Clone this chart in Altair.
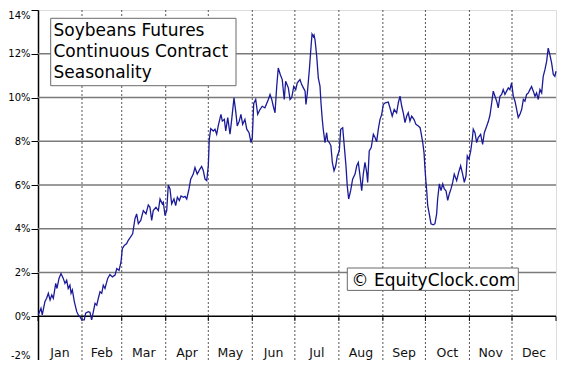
import altair as alt
import pandas as pd

# (day of year, seasonal % change)
q1 = [(0.2,0.06),(2.1,0.36),(3.0,0.06),(4.9,0.68),(6.1,0.82),(7.3,1.05),(8.5,0.74),(9.7,0.97),(10.8,0.82),(12.5,1.5),(13.4,1.27),(14.8,1.73),(16.2,1.95),(17.8,1.73),(19.0,1.5),(20.2,1.65),(21.3,1.27),(22.5,1.42),(23.3,1.05),(24.2,1.2),(25.6,0.67),(27.3,0.21),(28.4,0.06),(29.6,-0.02),(30.8,-0.17),(32.6,-0.17),(33.6,0.14),(35.4,0.21),(36.6,0.18),(37.8,-0.17),(39.0,0.21),(40.2,0.59),(41.4,0.51),(42.5,0.82),(43.7,1.12),(44.9,1.05),(46.0,1.42),(47.2,1.27),(49.1,1.73),(50.7,1.91),(52.4,1.80),(54.3,1.88),(55.5,2.18),(57.1,2.1),(58.5,2.48),(59.4,3.09),(60.8,3.24),(62.5,3.32),(63.6,3.47),(64.8,3.58),(66.7,3.77),(68.3,4.45),(69.5,4.68),(70.7,4.23),(72.4,4.38),(74.2,4.83),(76.1,4.68),(77.7,5.09),(78.9,4.98),(80.1,4.38),(81.2,4.83),(83.1,4.98),(84.8,4.83),(86.0,5.36),(87.6,5.14),(88.3,5.21),(89.5,4.6)]
q2 = [(90.7,4.83),(91.8,6.0),(93.0,5.82),(94.2,5.14),(95.8,5.36),(97.0,5.06),(98.2,5.44),(99.6,5.29),(100.8,5.5),(102.4,5.44),(103.6,5.48),(104.8,5.36),(106.4,5.82),(107.6,6.27),(109.4,6.5),(110.6,6.8),(112.2,6.5),(114.1,6.73),(115.3,6.85),(116.5,6.65),(117.7,6.27),(118.9,6.2),(120.0,6.88),(120.7,8.09),(121.7,8.58),(123.5,8.47),(124.7,8.55),(125.9,8.32),(127.0,8.7),(128.9,9.23),(129.9,8.92),(131.3,9.0),(132.3,8.47),(133.7,9.08),(135.3,8.32),(136.5,9.0),(138.1,9.98),(139.3,9.38),(140.4,8.7),(141.8,8.92),(143.0,9.23),(144.2,8.77),(145.8,9.0),(147.1,8.55),(148.7,8.39),(150.1,7.94),(151.0,8.17),(152.0,9.73),(153.4,9.91),(154.8,9.23),(156.4,9.45),(158.0,9.6),(159.9,9.53),(162.3,9.91),(163.5,10.14),(164.7,9.91),(165.8,9.6),(167.0,9.3),(168.2,10.5),(169.3,11.35),(170.7,11.05),(172.1,10.82),(173.5,9.91),(174.5,10.74),(176.4,10.44),(177.6,9.91),(178.8,10.0),(180.2,10.5)]
q3 = [(181.6,10.36),(182.7,10.67),(184.6,10.82),(185.8,10.59),(187.0,10.44),(188.2,10.29),(188.8,9.68),(189.8,10.21),(191.2,11.27),(192.4,12.33),(193.1,12.9),(194.0,12.79),(194.5,12.86),(195.2,12.64),(196.4,11.88),(197.5,10.9),(198.7,10.52),(199.4,9.76),(200.3,9.0),(201.0,8.55),(202.2,7.94),(203.4,8.39),(204.1,8.02),(205.3,7.94),(206.4,7.79),(207.4,7.03),(208.6,6.65),(209.8,6.88),(210.9,7.33),(212.3,7.56),(213.3,8.55),(214.7,8.62),(215.8,7.79),(217.0,6.88),(217.9,5.97),(218.9,5.36),(220.3,5.74),(221.7,6.27),(223.4,6.5),(224.6,6.88),(225.7,7.03),(226.9,6.42),(228.1,5.74),(229.2,6.5),(230.4,7.03),(231.6,6.58),(232.3,6.12),(233.4,7.56),(234.8,7.71),(236.3,8.32),(237.5,8.17),(238.6,7.97),(239.8,8.55),(241.0,9.0),(242.2,9.23),(243.3,9.68),(244.7,9.76),(246.8,9.79),(248.0,9.53),(249.6,9.15),(251.0,9.45),(252.7,9.3),(253.9,9.76),(255.1,10.06),(256.3,9.6),(257.4,9.3),(258.6,8.85),(259.8,9.15),(260.9,9.3),(262.1,8.92),(263.3,9.15),(264.9,9.0),(266.3,8.77),(268.0,8.7),(269.2,8.62),(269.9,8.39),(271.1,7.94),(272.0,7.48),(272.7,6.73)]
q4 = [(273.4,6.12),(273.9,5.74),(274.6,5.06),(275.7,4.68),(276.9,4.23),(278.5,4.18),(279.7,4.23),(280.9,4.68),(281.6,5.36),(282.8,6.05),(284.0,5.74),(285.2,6.05),(286.3,5.82),(287.5,5.74),(288.7,5.3),(289.8,5.59),(291.0,5.82),(292.2,6.12),(293.3,6.5),(295.0,6.2),(296.4,6.58),(297.8,6.88),(299.2,6.5),(300.4,6.12),(301.6,6.42),(302.5,7.33),(303.7,7.18),(304.9,7.56),(306.0,8.09),(306.7,8.55),(307.9,8.39),(309.1,7.94),(310.2,8.17),(311.9,8.32),(313.3,7.86),(314.5,8.39),(316.2,8.7),(317.3,8.9),(318.5,9.2),(319.7,9.76),(320.8,10.29),(322.0,10.06),(323.2,9.83),(324.3,9.53),(325.5,10.06),(326.7,10.14),(327.8,10.36),(329.0,10.14),(330.2,10.29),(331.4,10.44),(332.5,10.36),(333.7,10.67),(334.9,10.06),(336.1,9.83),(337.3,9.45),(338.4,9.08),(339.6,9.23),(340.8,9.45),(342.0,9.91),(343.1,9.83),(344.3,10.14),(345.5,10.21),(346.6,10.36),(347.8,10.5),(349.0,10.29),(350.2,10.06),(351.3,10.21),(352.5,9.91),(353.7,10.36),(354.9,10.21),(356.0,10.97),(357.2,11.27),(358.4,11.65),(359.5,12.26),(360.7,11.95),(361.9,11.58),(363.1,11.05),(364.2,10.97),(365.0,11.2)]

months = ["Jan", "Feb", "Mar", "Apr", "May", "Jun", "Jul", "Aug", "Sep", "Oct", "Nov", "Dec"]
month_mid = [15.5, 45, 74.5, 105, 135.5, 166, 196.5, 227.5, 258, 288.5, 319, 349.5]
month_bounds = [31, 59, 90, 120, 151, 181, 212, 243, 273, 304, 334]
y_ticks = [-2, 0, 2, 4, 6, 8, 10, 12, 14]
grid_vals = [2, 4, 6, 8, 10, 12]
title_lines = ["Soybeans Futures", "Continuous Contract", "Seasonality"]
credit = "© EquityClock.com"

W, H = 518, 350
FONT = "DejaVu Sans"

pts = q1 + q2 + q3 + q4
line_df = pd.DataFrame(pts, columns=["day", "pct"])

xs = alt.Scale(domain=[0, 365], nice=False, zero=False)
ys = alt.Scale(domain=[-2, 14], nice=False, zero=False)
yaxis = alt.Axis(values=y_ticks, labelExpr="datum.value + '%'", tickSize=7, tickColor="black",
                 domainColor="black", domainWidth=1.5, labelColor="black", labelFont=FONT,
                 labelFontSize=10, labelPadding=1, grid=False, title=None,
                 labelFlush=True, labelFlushOffset=0)
X = alt.X("day:Q", scale=xs, axis=None)
Y = alt.Y("pct:Q", scale=ys, axis=yaxis)

grid = alt.Chart(pd.DataFrame({"pct": grid_vals})).mark_rule(color="#7a7a7a", strokeWidth=1.4).encode(
    y=Y, x=alt.value(0), x2=alt.value(W))

vdash = alt.Chart(pd.DataFrame({"day": month_bounds})).mark_rule(
    color="#555555", strokeWidth=1, strokeDash=[2, 2]).encode(x=X, y=alt.value(0), y2=alt.value(H))

zero = alt.Chart(pd.DataFrame({"pct": [0]})).mark_rule(color="black", strokeWidth=1.5).encode(
    y=Y, x=alt.value(0), x2=alt.value(W))

xticks = alt.Chart(pd.DataFrame({"day": [0] + month_bounds + [365]})).mark_rule(
    color="black", strokeWidth=1).encode(x=X, y=alt.value(306.5), y2=alt.value(311))

mlabels = alt.Chart(pd.DataFrame({"day": month_mid, "m": months})).mark_text(
    font=FONT, fontSize=12.5, color="#111", baseline="alphabetic", align="center").encode(
    x=X, y=alt.value(347), text="m:N")

line = alt.Chart(line_df).mark_line(color="#1b1b9a", strokeWidth=1.3).encode(x=X, y=Y)

one = pd.DataFrame({"a": [0]})
tbox = alt.Chart(one).mark_rect(fill="white", stroke="#6a6a6a", strokeWidth=1).encode(
    x=alt.value(12.7), x2=alt.value(198), y=alt.value(8.3), y2=alt.value(75.7))
ttexts = [alt.Chart(one).mark_text(text=t, font=FONT, fontSize=17, color="black", align="left",
                                   baseline="alphabetic").encode(x=alt.value(15.5), y=alt.value(26 + 20.75 * i))
          for i, t in enumerate(title_lines)]

cbox = alt.Chart(one).mark_rect(fill="white", stroke="#6a6a6a", strokeWidth=1).encode(
    x=alt.value(309.3), x2=alt.value(480.3), y=alt.value(258), y2=alt.value(280.4))
ctext = alt.Chart(one).mark_text(text=credit, font=FONT, fontSize=17, color="black", align="left",
                                 baseline="alphabetic").encode(x=alt.value(313.5), y=alt.value(276))

chart = alt.layer(grid, vdash, zero, xticks, mlabels, line, tbox, *ttexts, cbox, ctext).properties(
    width=W, height=H,
    autosize=alt.AutoSizeParams(type="none"),
    padding={"left": 30, "top": 2, "right": 1, "bottom": 0},
).configure_view(stroke=None).configure(background="white")

chart.save("out.html", embed_options={"renderer": "svg", "actions": False})
